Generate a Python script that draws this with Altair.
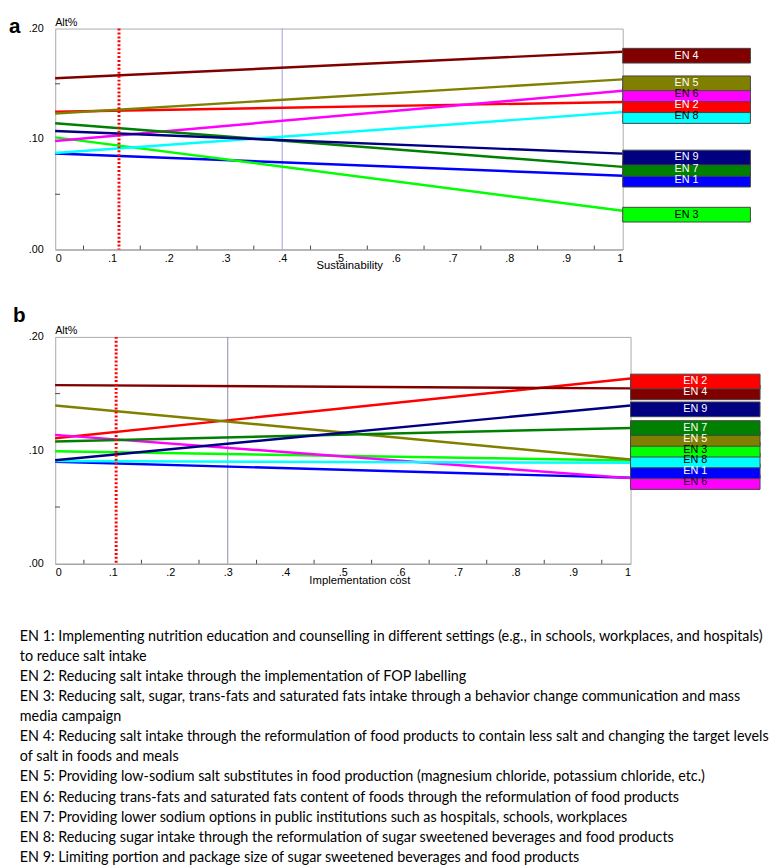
import altair as alt
import pandas as pd

# ---------------- data ----------------
codes = ["EN 1", "EN 2", "EN 3", "EN 4", "EN 5", "EN 6", "EN 7", "EN 8", "EN 9"]
line_colors = ["#0000ff", "#ff0000", "#00ff00", "#800000", "#808000",
               "#ff00ff", "#008000", "#00ffff", "#000080"]
label_text_colors = ["white", "white", "black", "white", "white",
                     "#200020", "white", "black", "white"]

# Panel a: Sustainability (Alt% at x=0 and x=1)
sus_start = [0.0870, 0.1247, 0.1015, 0.1550, 0.1232, 0.0983, 0.1143, 0.0873, 0.1072]
sus_end = [0.0668, 0.1336, 0.0351, 0.1790, 0.1540, 0.1437, 0.0748, 0.1244, 0.0868]
sus_current = 0.1125
sus_reference = 0.4

# Panel b: Implementation cost
cost_start = [0.0899, 0.1107, 0.0991, 0.1575, 0.1396, 0.1136, 0.1078, 0.0905, 0.0913]
cost_end = [0.0758, 0.1633, 0.0911, 0.1546, 0.0919, 0.0755, 0.1197, 0.0890, 0.1396]
cost_current = 0.106
cost_reference = 0.3

x_ticks = [0, 0.1, 0.2, 0.3, 0.4, 0.5, 0.6, 0.7, 0.8, 0.9, 1.0]
x_minor = [0.05, 0.15, 0.25, 0.35, 0.45, 0.55, 0.65, 0.75, 0.85, 0.95]
y_ticks = [0.0, 0.1, 0.2]
y_minor = [0.05, 0.15]
y_title = "Alt%"

legend_lines = [
    "EN 1: Implementing nutrition education and counselling in different settings (e.g., in schools, workplaces, and hospitals)",
    "to reduce salt intake",
    "EN 2: Reducing salt intake through the implementation of FOP labelling",
    "EN 3: Reducing salt, sugar, trans-fats and saturated fats intake through a behavior change communication and mass",
    "media campaign",
    "EN 4: Reducing salt intake through the reformulation of food products to contain less salt and changing the target levels",
    "of salt in foods and meals",
    "EN 5: Providing low-sodium salt substitutes in food production (magnesium chloride, potassium chloride, etc.)",
    "EN 6: Reducing trans-fats and saturated fats content of foods through the reformulation of food products",
    "EN 7: Providing lower sodium options in public institutions such as hospitals, schools, workplaces",
    "EN 8: Reducing sugar intake through the reformulation of sugar sweetened beverages and food products",
    "EN 9: Limiting portion and package size of sugar sweetened beverages and food products",
]

FONT = "Liberation Sans"
TEXT_FONT = "Lato"


def stack_labels(values, offset, gap):
    """Bottom-up de-overlap of end labels (data units)."""
    order = sorted(range(len(values)), key=lambda i: values[i])
    pos = {}
    prev = None
    for i in order:
        d = values[i] - offset
        if prev is not None:
            d = max(d, prev + gap)
        pos[i] = d
        prev = d
    return order, pos


def panel(letter, xtitle, starts, ends, current, reference, ref_color,
          width, height, title_x, title_y, letter_dx, letter_dy):
    ppu = height / 0.2
    xs = alt.Scale(domain=[0, 1], nice=False, zero=False)
    ys = alt.Scale(domain=[0, 0.2], nice=False)
    cs = alt.Scale(domain=codes, range=line_colors)

    rows = []
    for c, s, e in zip(codes, starts, ends):
        rows.append({"code": c, "x": 0.0, "v": s})
        rows.append({"code": c, "x": 1.0, "v": e})
    lines_df = pd.DataFrame(rows)

    order, pos = stack_labels(ends, 4 / ppu, 11 / ppu)
    half = 7.5 / ppu
    box_rows = []
    for i in order:
        box_rows.append({"code": codes[i], "x": 1.0, "x2": 1.225,
                         "xm": 1.1125, "v": pos[i] + half, "y2": pos[i] - half,
                         "ym": pos[i], "tc": label_text_colors[i]})
    box_df = pd.DataFrame(box_rows)

    x_axis = alt.Axis(values=x_ticks,
                      labelExpr="datum.value == 0 ? '0' : (datum.value == 1 ? '1' : replace(format(datum.value, '.1f'), '0.', '.'))",
                      title=xtitle, ticks=False, grid=False, domainColor="#999999",
                      labelPadding=3, labelFontSize=11, labelColor="black", labelFont=FONT,
                      titleFont=FONT, titleFontSize=11.5, titleFontWeight="normal",
                      titleColor="black", titleX=title_x, titleY=title_y,
                      titleBaseline="alphabetic", titleAlign="center")
    y_axis = alt.Axis(values=y_ticks,
                      labelExpr="replace(format(datum.value, '.2f'), '0.', '.')",
                      title="", ticks=False, grid=False, domainColor="#bbbbbb",
                      labelFlush=False,
                      labelPadding=12, labelFontSize=11, labelColor="black", labelFont=FONT)

    X = lambda f: alt.X(f, scale=xs, axis=x_axis, title=xtitle)
    Y = lambda f: alt.Y(f, scale=ys, axis=y_axis, title="")

    ref_rule = alt.Chart(pd.DataFrame({"x": [reference]})).mark_rule(
        color=ref_color, strokeWidth=1).encode(x=X("x:Q"))

    lines = alt.Chart(lines_df).mark_line(strokeWidth=2.5).encode(
        x=X("x:Q"),
        y=Y("v:Q"),
        color=alt.Color("code:N", scale=cs, legend=None),
    )

    cur_rule = alt.Chart(pd.DataFrame({"x": [current]})).mark_rule(
        color="#ff0000", strokeWidth=3, strokeDash=[2, 2]).encode(x=X("x:Q"))

    xminor = alt.Chart(pd.DataFrame({"x": x_minor, "v": 0.0, "y2": 4 / ppu})).mark_rule(
        color="#444444", strokeWidth=1).encode(
        x=X("x:Q"), y=Y("v:Q"), y2="y2:Q")

    yminor = alt.Chart(pd.DataFrame({"v": y_minor, "x": 0.0, "x2": 5 / width})).mark_rule(
        color="#444444", strokeWidth=1).encode(
        x=X("x:Q"), x2="x2:Q", y=Y("v:Q"))

    boxes = alt.Chart(box_df).mark_rect(stroke="#444444", strokeWidth=1).encode(
        x=X("x:Q"), x2="x2:Q",
        y=Y("v:Q"), y2="y2:Q",
        color=alt.Color("code:N", scale=cs, legend=None),
    )
    box_text = alt.Chart(box_df).mark_text(font=FONT, fontSize=11, baseline="middle").encode(
        x=X("xm:Q"),
        y=Y("ym:Q"),
        text="code:N",
        color=alt.Color("tc:N", scale=None),
    )

    ytitle = alt.Chart(pd.DataFrame({"x": [0.0], "v": [0.2], "t": [y_title]})).mark_text(
        font=FONT, fontSize=11, align="left", baseline="alphabetic", dy=-3, color="black"
    ).encode(x=X("x:Q"), y=Y("v:Q"), text="t:N")

    letter_mark = alt.Chart(pd.DataFrame({"x": [0.0], "v": [0.2], "t": [letter]})).mark_text(
        font=FONT, fontSize=21, fontWeight="bold", align="left", baseline="top",
        dx=letter_dx, dy=letter_dy, color="black"
    ).encode(x=X("x:Q"), y=Y("v:Q"), text="t:N")

    return alt.layer(ref_rule, lines, cur_rule, xminor, yminor, boxes, box_text,
                     ytitle, letter_mark).properties(width=width, height=height)


pa = panel("a", "Sustainability", sus_start, sus_end, sus_current, sus_reference,
           "#9d9de6", 578, 225, 299.5, 19, -47, -12)
pb = panel("b", "Implementation cost", cost_start, cost_end, cost_current, cost_reference,
           "#8a8ab4", 586, 231, 309.8, 20, -43, -32)

txt_df = pd.DataFrame({"line": legend_lines, "i": list(range(len(legend_lines)))})
txt = alt.Chart(txt_df).mark_text(
    align="left", baseline="middle", font=TEXT_FONT, fontSize=14.6, color="black", dy=6
).encode(
    x=alt.value(-36),
    y=alt.Y("i:Q", axis=None, scale=alt.Scale(domain=[-0.5, len(legend_lines) - 0.5], reverse=True, nice=False, zero=False)),
    text="line:N",
).properties(width=700, height=246, view=alt.ViewBackground(stroke="transparent"))

chart = alt.ConcatChart(concat=[pa, pb, txt], columns=1, align="none", spacing=34).properties(
    padding=0
).configure_view(stroke="#aaaaaa", strokeWidth=1)

chart.save("out.html", embed_options={"renderer": "svg", "actions": False})
